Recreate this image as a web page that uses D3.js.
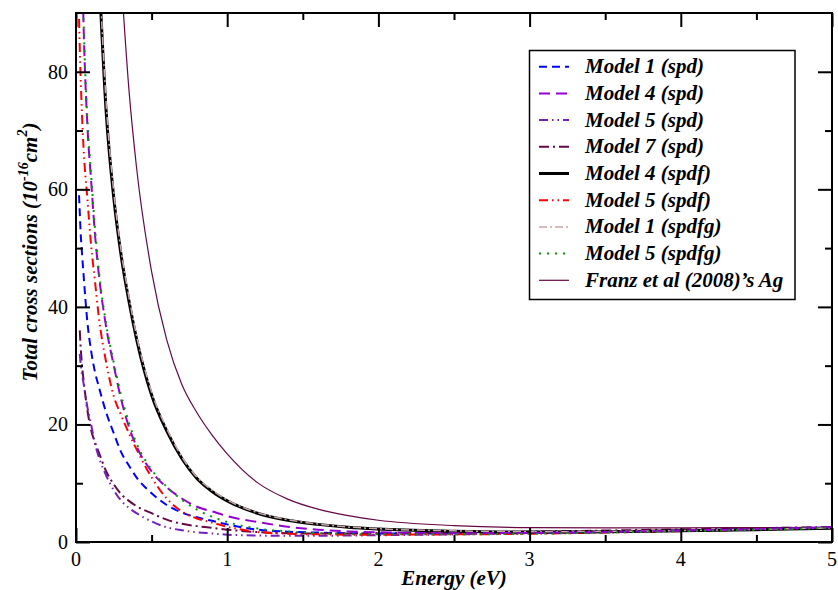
<!DOCTYPE html>
<html><head><meta charset="utf-8">
<script src="https://cdn.jsdelivr.net/npm/d3@7"></script>
<style>
body{margin:0;background:#fff;}
svg{display:block;}
</style></head>
<body>
<svg id="chart" width="838" height="590"></svg>
<script>
// ---- data ----
const energy = [0.02,0.025,0.03,0.04,0.05,0.075,0.1,0.125,0.15,0.2,0.25,0.3,0.35,0.4,0.5,0.6,0.7,0.8,0.9,1.0,1.2,1.4,1.6,1.8,2.0,2.5,3,3.5,4,4.5,5];
const model1spd   = [59,56,53,49,45.5,37.5,32.5,29,26.5,22,18.5,15.2,13,11,8.3,6.3,5.0,4.2,3.6,3.0,2.1,1.75,1.6,1.5,1.45,1.45,1.55,1.7,1.95,2.2,2.5];
const model4spd   = [null,null,null,99,88,71,61.5,52.5,45.8,36.5,30,24.1,19.6,16.3,12.0,9.3,7.4,6.0,5.2,4.4,3.4,2.6,2.1,1.8,1.65,1.5,1.55,1.7,1.95,2.2,2.5];
const model5spd   = [null,32,30.5,28.5,27,23,20,16.8,14.5,11.3,8.8,7.0,5.8,4.9,3.5,2.5,2.0,1.65,1.45,1.25,1.1,1.05,1.05,1.1,1.15,1.3,1.5,1.7,1.95,2.2,2.45];
const model7spd   = [null,36,33.5,30,27.5,22.5,19,17,15.3,12,9.8,8.1,7.0,6.1,4.9,3.8,3.1,2.7,2.4,2.1,1.7,1.5,1.45,1.45,1.5,1.6,1.75,1.95,2.15,2.35,2.55];
const model4spdf  = [null,null,null,null,null,null,null,null,97.9,73,58.5,48.5,41,34.6,25,18.9,14.2,10.8,8.6,7.0,4.9,3.7,3.0,2.5,2.2,1.85,1.7,1.75,1.9,2.1,2.35];
const model5spdf  = [89,84,79.6,72.5,67,58.5,50.5,44.5,38.5,30.5,24.8,21.5,18.5,15.8,11,7.4,5.2,4.0,3.3,2.6,1.7,1.4,1.3,1.25,1.25,1.3,1.4,1.6,1.85,2.1,2.35];
const model1spdfg = [null,null,null,null,null,null,null,null,99.5,74.5,59.5,49.3,41.7,35.2,25.5,19.3,14.5,11.0,8.8,7.15,5.0,3.8,3.05,2.55,2.25,1.9,1.75,1.8,1.95,2.15,2.4];
const model5spdfg = [null,null,null,100,89,72,62.5,53.5,46.5,37,30.5,24.8,20.3,16.8,12.3,9.4,7.2,5.5,4.3,3.4,2.3,1.8,1.5,1.35,1.3,1.3,1.4,1.6,1.85,2.1,2.4];
const franzAg     = [null,null,null,null,null,null,null,null,null,null,null,95.4,77,63.8,46,34.4,26.8,22,18.2,15,10.1,7.3,5.6,4.5,3.7,2.8,2.45,2.4,2.4,2.45,2.5];

const seriesNames = ["Model 1 (spd)","Model 4 (spd)","Model 5 (spd)","Model 7 (spd)","Model 4 (spdf)","Model 5 (spdf)","Model 1 (spdfg)","Model 5 (spdfg)","Franz et al (2008)\u2019s Ag"];
const seriesValues = [model1spd,model4spd,model5spd,model7spd,model4spdf,model5spdf,model1spdfg,model5spdfg,franzAg];
const xTicks = [0,1,2,3,4,5];
const yTicks = [0,20,40,60,80];

// ---- styles ----
const FONT = "'Liberation Serif'";
const styles = [
  {color:"#0000ff", width:2,   dash:"8,5"},
  {color:"#9400d3", width:2,   dash:"11,6"},
  {color:"#7221bc", width:2,   dash:"9,4,1.5,4,1.5,4"},
  {color:"#670748", width:2,   dash:"10,4,2,4"},
  {color:"#000000", width:3,   dash:null},
  {color:"#ff0000", width:2,   dash:"9,4,1.5,4,1.5,4"},
  {color:"#c8a8a8", width:1.5, dash:"8,3,2,3"},
  {color:"#009900", width:2,   dash:"2,6"},
  {color:"#670748", width:1.2, dash:null}
];

const svg = d3.select("#chart");
const L = 76, R = 832, T = 13, B = 542;
const x = d3.scaleLinear().domain([0,5]).range([L,R]);
const y = d3.scaleLinear().domain([0,90]).range([B,T]);

// ---- text (tick labels, titles, legend) ----
const fmt = d3.format("d");
xTicks.forEach(v => {
  svg.append("text").attr("x",x(v)).attr("y",B+24).attr("text-anchor","middle")
    .attr("font-family",FONT).attr("font-size",20).attr("fill","#000").text(fmt(v));
});
yTicks.forEach(v => {
  svg.append("text").attr("x",L-8).attr("y",y(v)+7).attr("text-anchor","end")
    .attr("font-family",FONT).attr("font-size",20).attr("fill","#000").text(fmt(v));
});

svg.append("text").attr("x",(L+R)/2).attr("y",585).attr("text-anchor","middle").attr("font-family",FONT)
  .attr("font-size",21).attr("font-weight","bold").attr("font-style","italic").text("Energy (eV)");

const yt = svg.append("text").attr("transform","translate(37,252) rotate(-90)").attr("text-anchor","middle")
  .attr("font-family",FONT).attr("font-size",21).attr("font-weight","bold").attr("font-style","italic");
yt.append("tspan").text("Total cross sections (10");
yt.append("tspan").attr("dy",-9).attr("font-size",14).text("-16");
yt.append("tspan").attr("dy",9).text("cm");
yt.append("tspan").attr("dy",-10).attr("font-size",14).text("2");
yt.append("tspan").attr("dy",10).text(")");

svg.append("rect").attr("x",529.5).attr("y",50.5).attr("width",265.5).attr("height",249)
  .attr("fill","#fff").attr("stroke","#000").attr("stroke-width",1.5);
seriesNames.forEach((name,i) => {
  const cy = 66.7 + i*26.7;
  svg.append("text").attr("x",585).attr("y",cy+6.5).attr("font-size",21).attr("font-family",FONT)
    .attr("font-weight","bold").attr("font-style","italic").text(name);
});
seriesNames.forEach((name,i) => {
  const cy = 66.7 + i*26.7;
  const st = styles[i];
  svg.append("line").attr("x1",539).attr("x2",569).attr("y1",cy).attr("y2",cy)
    .attr("stroke",st.color).attr("stroke-width",st.width).attr("stroke-dasharray",st.dash);
});

// ---- curves ----
const g = svg.append("g").attr("clip-path","url(#clip)");
const line = d3.line()
  .defined(d => d[1] != null)
  .x(d => x(d[0])).y(d => y(d[1]))
  .curve(d3.curveMonotoneX);

const order = [8,0,3,2,5,4,6,1,7];
order.forEach(i => {
  const st = styles[i];
  g.append("path")
    .datum(energy.map((e,k) => [e, seriesValues[i][k]]))
    .attr("d", line)
    .attr("fill","none")
    .attr("stroke", st.color)
    .attr("stroke-width", st.width)
    .attr("stroke-dasharray", st.dash)
    .attr("stroke-linejoin","round");
});

// ---- axis ticks (inward on all four sides) ----
const major = 14, minor = 7;
const xMinorVals = d3.range(0.5,5,1);
const yMinorVals = d3.range(10,90,20);
const none = () => "";

const axG = svg.append("g");
const gb = axG.append("g").attr("transform",`translate(0,${B})`)
  .call(d3.axisBottom(x).tickValues(xTicks).tickSizeInner(-major).tickSizeOuter(0).tickFormat(none));
gb.append("g").call(d3.axisBottom(x).tickValues(xMinorVals).tickSizeInner(-minor).tickSizeOuter(0).tickFormat(none));
const gt = axG.append("g").attr("transform",`translate(0,${T})`)
  .call(d3.axisTop(x).tickValues(xTicks).tickSizeInner(-major).tickSizeOuter(0).tickFormat(none));
gt.append("g").call(d3.axisTop(x).tickValues(xMinorVals).tickSizeInner(-minor).tickSizeOuter(0).tickFormat(none));
const gl = axG.append("g").attr("transform",`translate(${L},0)`)
  .call(d3.axisLeft(y).tickValues(yTicks).tickSizeInner(-major).tickSizeOuter(0).tickFormat(none));
gl.append("g").call(d3.axisLeft(y).tickValues(yMinorVals).tickSizeInner(-minor).tickSizeOuter(0).tickFormat(none));
const gr = axG.append("g").attr("transform",`translate(${R},0)`)
  .call(d3.axisRight(y).tickValues(yTicks).tickSizeInner(-major).tickSizeOuter(0).tickFormat(none));
gr.append("g").call(d3.axisRight(y).tickValues(yMinorVals).tickSizeInner(-minor).tickSizeOuter(0).tickFormat(none));

axG.selectAll(".domain").remove();
axG.selectAll(".tick text").remove();
axG.selectAll("g").attr("font-family",null).attr("font-size",null);
axG.selectAll(".tick line").attr("stroke","#000").attr("stroke-width",2);

svg.append("rect").attr("x",L).attr("y",T).attr("width",R-L).attr("height",B-T)
  .attr("fill","none").attr("stroke","#000").attr("stroke-width",2);

svg.append("defs").append("clipPath").attr("id","clip")
  .append("rect").attr("x",L).attr("y",T).attr("width",R-L).attr("height",B-T);
</script>
</body></html>
